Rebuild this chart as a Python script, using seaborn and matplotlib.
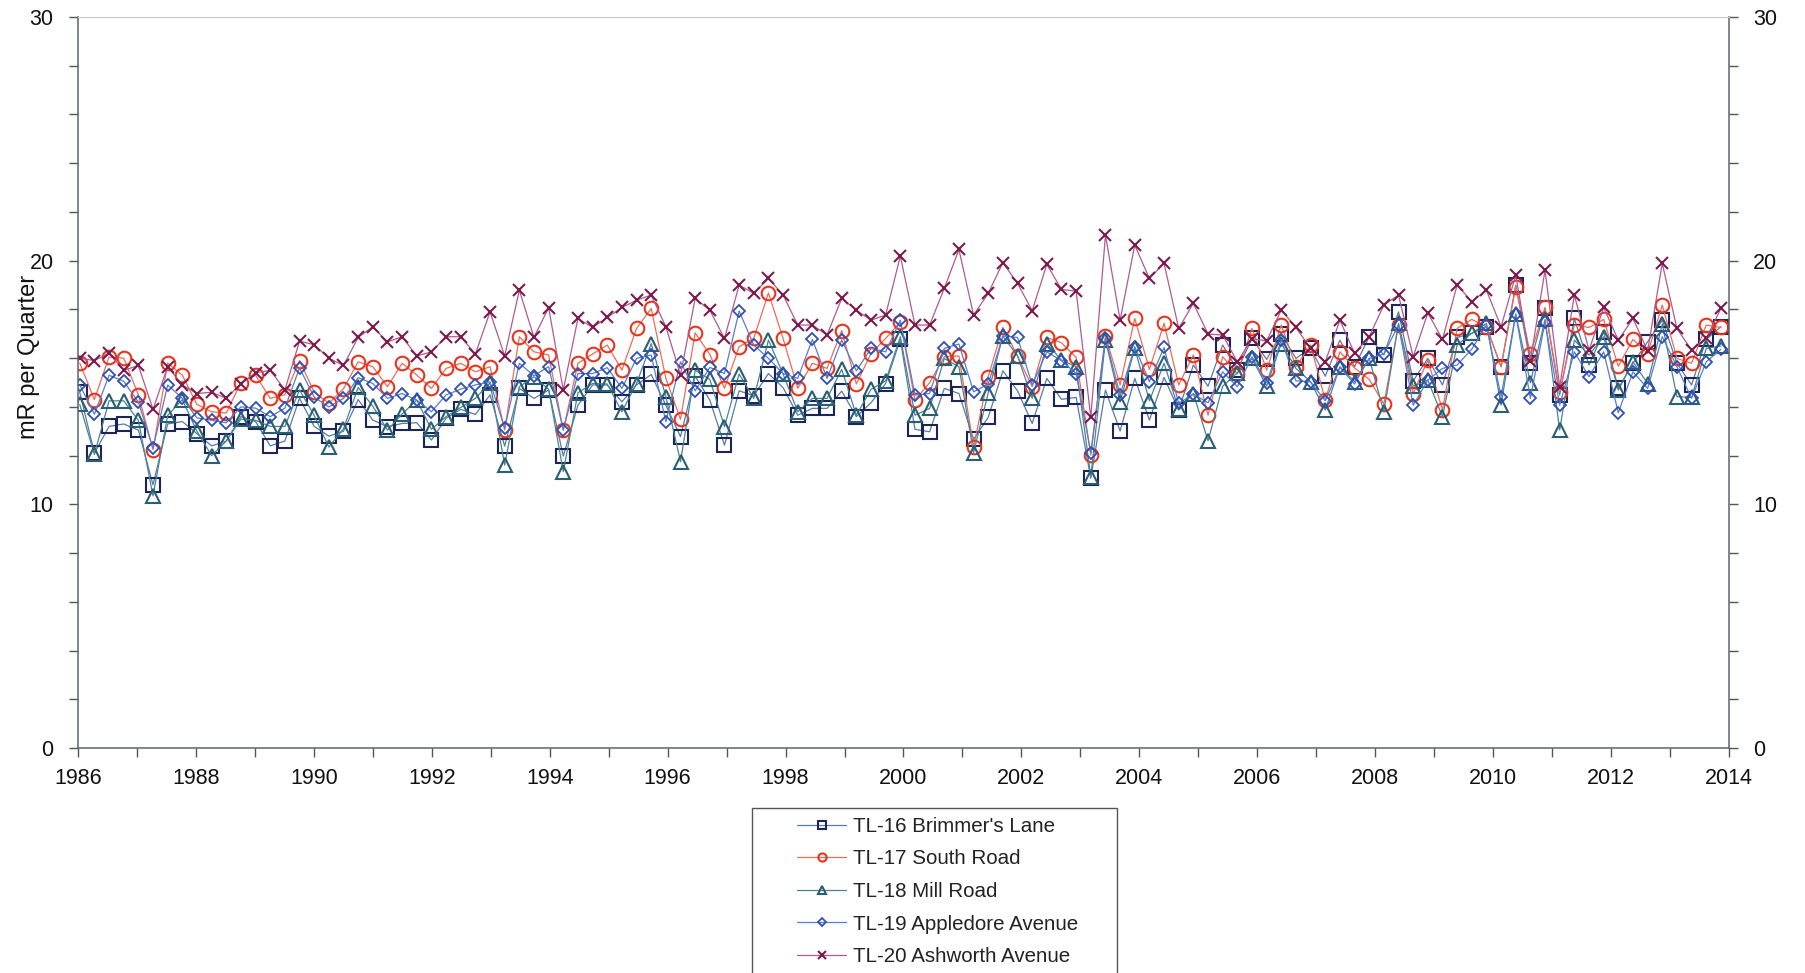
import numpy as np
import pandas as pd
import matplotlib
matplotlib.use("Agg")
import matplotlib.pyplot as plt
from matplotlib.ticker import MultipleLocator
from matplotlib.patches import Rectangle
from matplotlib import font_manager
import seaborn as sns

# ---------------- data (quarterly, 1986 Q1 .. 2014 Q1) ----------------
n_quarters = 113
quarters = 1986.03 + np.arange(n_quarters) * 0.2485

tl16_brimmers = [
    14.6, 12.1, 13.2, 13.3, 13.05, 10.8, 13.3, 13.4, 12.9, 12.4,
    12.6, 13.6, 13.4, 12.4, 12.6, 14.35, 13.2, 12.8, 13.0, 14.3,
    13.46, 13.19, 13.32, 13.35, 12.64, 13.53, 13.9, 13.69, 14.49, 12.39,
    14.76, 14.35, 14.69, 11.98, 14.07, 14.9, 14.9, 14.21, 14.9, 15.33,
    14.07, 12.78, 15.26, 14.28, 12.43, 14.66, 14.46, 15.37, 14.79, 13.66,
    13.94, 13.94, 14.65, 13.6, 14.17, 14.96, 16.77, 13.08, 12.98, 14.76,
    14.55, 12.67, 13.57, 15.48, 14.66, 13.32, 15.17, 14.31, 14.39, 11.07,
    14.69, 13.01, 15.17, 13.46, 15.21, 13.87, 15.72, 14.85, 16.54, 15.51,
    16.81, 15.95, 16.99, 15.99, 16.4, 15.26, 16.74, 15.65, 16.88, 16.13,
    17.9, 15.07, 15.99, 14.9, 16.85, 17.02, 17.29, 15.65, 19.0, 15.81,
    18.04, 14.49, 17.63, 15.72, 17.08, 14.76, 15.79, 16.67, 17.56, 15.79,
    14.9, 16.77, 17.29,
]
tl17_south = [
    15.8, 14.3, 16.05, 16.0, 14.5, 12.25, 15.8, 15.3, 14.1, 13.8,
    13.75, 15.0, 15.3, 14.35, 14.5, 15.9, 14.6, 14.15, 14.75, 15.85,
    15.65, 14.83, 15.79, 15.31, 14.76, 15.58, 15.79, 15.44, 15.65, 13.05,
    16.88, 16.26, 16.13, 13.05, 15.79, 16.17, 16.54, 15.51, 17.22, 18.04,
    15.17, 13.49, 17.04, 16.15, 14.76, 16.47, 16.81, 18.68, 16.81, 14.76,
    15.79, 15.58, 17.13, 14.94, 16.19, 16.81, 17.49, 14.28, 14.99, 16.06,
    16.09, 12.36, 15.24, 17.26, 16.09, 14.83, 16.85, 16.63, 16.03, 12.02,
    16.91, 14.9, 17.63, 15.54, 17.43, 14.9, 16.13, 13.66, 16.06, 15.35,
    17.22, 15.51, 17.36, 15.65, 16.54, 14.28, 16.26, 15.6, 15.13, 14.12,
    17.36, 14.55, 15.92, 13.87, 17.22, 17.59, 17.29, 15.65, 18.93, 16.17,
    18.08, 14.62, 17.36, 17.26, 17.59, 15.67, 16.77, 16.19, 18.18, 15.99,
    15.79, 17.36, 17.26,
]
tl18_mill = [
    14.1, 12.05, 14.25, 14.25, 13.45, 10.35, 13.65, 14.3, 13.0, 12.0,
    12.6, 13.5, 13.45, 13.2, 13.2, 14.7, 13.65, 12.35, 13.1, 14.8,
    14.03, 13.05, 13.71, 14.28, 13.08, 13.6, 13.98, 14.35, 14.99, 11.61,
    14.83, 15.24, 14.72, 11.34, 14.58, 14.96, 14.94, 13.8, 14.96, 16.6,
    14.42, 11.75, 15.51, 15.13, 13.19, 15.35, 14.35, 16.74, 15.35, 13.8,
    14.35, 14.35, 15.54, 13.66, 14.72, 15.07, 16.88, 13.66, 13.94, 15.99,
    15.65, 12.12, 14.58, 16.91, 16.09, 14.35, 16.6, 15.92, 15.65, 11.13,
    16.74, 14.21, 16.4, 14.25, 15.79, 13.9, 14.55, 12.61, 14.85, 15.4,
    15.99, 14.85, 16.6, 15.58, 15.03, 13.87, 15.65, 15.03, 15.99, 13.8,
    17.43, 14.85, 15.1, 13.6, 16.54, 17.02, 17.43, 14.07, 17.81, 14.99,
    17.59, 13.05, 16.74, 16.13, 16.88, 14.69, 15.85, 14.96, 17.4, 14.42,
    14.39, 16.4, 16.5,
]
tl19_appledore = [
    14.9, 13.7, 15.3, 15.05, 14.2, 12.3, 14.9, 14.35, 13.55, 13.45,
    13.35, 14.0, 13.95, 13.6, 13.95, 15.6, 14.4, 14.0, 14.35, 15.2,
    14.96, 14.35, 14.55, 14.28, 13.8, 14.49, 14.73, 14.9, 15.03, 13.12,
    15.79, 15.28, 15.65, 13.05, 15.37, 15.37, 15.61, 14.76, 15.99, 16.13,
    13.39, 15.85, 14.66, 15.62, 15.37, 17.93, 16.54, 15.99, 15.37, 15.17,
    16.77, 15.17, 16.74, 15.48, 16.4, 16.26, 17.56, 14.49, 14.55, 16.4,
    16.58, 14.62, 14.94, 16.91, 16.85, 14.9, 16.26, 15.89, 15.37, 12.12,
    16.81, 14.49, 16.47, 15.03, 16.44, 14.14, 14.53, 14.17, 15.44, 14.83,
    16.06, 14.99, 16.74, 15.07, 15.03, 14.25, 15.62, 14.94, 15.99, 16.17,
    17.36, 14.07, 15.1, 15.58, 15.72, 16.37, 17.36, 14.42, 17.8, 14.35,
    17.49, 14.07, 16.26, 15.24, 16.26, 13.76, 15.44, 14.76, 16.88, 15.65,
    14.35, 15.85, 16.36,
]
tl20_ashworth = [
    16.0, 15.9, 16.2, 15.5, 15.7, 13.9, 15.65, 14.9, 14.55, 14.6,
    14.35, 14.95, 15.4, 15.5, 14.7, 16.7, 16.55, 16.0, 15.7, 16.85,
    17.29, 16.67, 16.88, 16.09, 16.26, 16.88, 16.88, 16.17, 17.9, 16.09,
    18.79, 16.85, 18.07, 14.69, 17.63, 17.26, 17.67, 18.08, 18.38, 18.59,
    17.29, 15.31, 18.45, 17.97, 16.81, 19.0, 18.66, 19.27, 18.59, 17.36,
    17.36, 16.95, 18.45, 17.97, 17.56, 17.77, 20.19, 17.36, 17.36, 18.86,
    20.46, 17.77, 18.66, 19.92, 19.07, 17.95, 19.85, 18.82, 18.75, 13.57,
    21.05, 17.56, 20.64, 19.27, 19.89, 17.22, 18.25, 16.99, 16.95, 15.85,
    16.8, 16.71, 17.97, 17.26, 16.4, 15.85, 17.56, 16.2, 16.88, 18.18,
    18.59, 16.06, 17.86, 16.77, 19.0, 18.32, 18.79, 17.29, 19.41, 15.9,
    19.61, 14.83, 18.59, 16.33, 18.08, 16.74, 17.63, 16.3, 19.89, 17.22,
    16.33, 16.81, 18.04,
]

series_names = ["TL-16 Brimmer's Lane", "TL-17 South Road", "TL-18 Mill Road",
                "TL-19 Appledore Avenue", "TL-20 Ashworth Avenue"]
series_values = [tl16_brimmers, tl17_south, tl18_mill, tl19_appledore, tl20_ashworth]

x_tick_labels = list(range(1986, 2015, 2))
y_tick_labels = [0, 10, 20, 30]

# ---------------- styling ----------------
line_colors = ["#5a78a8", "#f06a5a", "#4a8494", "#5a7ccc", "#b05a90"]
marker_colors = ["#1b2656", "#e8341c", "#2a5e72", "#2f4fb4", "#7a1c4c"]
markers = ["s", "o", "^", "D", "x"]
marker_sizes = [10.0, 9.8, 10.2, 6.3, 9.2]
marker_edge = [1.5, 1.5, 1.5, 1.3, 1.5]

sns.set_style("ticks")
plt.rcParams["font.family"] = ["Liberation Sans", "DejaVu Sans"]

installed = {f.name for f in font_manager.fontManager.ttflist}
if "Liberation Sans Narrow" in installed:
    ylabel_family, ylabel_size = ["Liberation Sans Narrow", "DejaVu Sans"], 19
else:
    ylabel_family, ylabel_size = ["Liberation Sans", "DejaVu Sans"], 17

fig = plt.figure(figsize=(18.05, 9.73), dpi=100)
ax = fig.add_axes([0.0432, 0.2312, 0.9147, 0.7513])

rows = []
for name, vals in zip(series_names, series_values):
    rows.append(pd.DataFrame({"year": quarters, "value": vals, "site": name}))
df = pd.concat(rows, ignore_index=True)

for name, lc, mc, m, ms, mew in zip(series_names, line_colors, marker_colors, markers,
                                    marker_sizes, marker_edge):
    sub = df[df["site"] == name]
    sns.lineplot(data=sub, x="year", y="value", ax=ax, color=lc, linewidth=0.9,
                 marker=m, markersize=ms, markerfacecolor="none",
                 markeredgecolor=mc, markeredgewidth=mew, label=name,
                 estimator=None, sort=False)

ax.set_xlim(1986, 2014)
ax.set_ylim(0, 30)
ax.set_xticks(x_tick_labels)
ax.set_xticklabels([str(v) for v in x_tick_labels])
ax.set_yticks(y_tick_labels)
ax.set_yticklabels([str(v) for v in y_tick_labels])
ax.xaxis.set_minor_locator(MultipleLocator(1))
ax.yaxis.set_minor_locator(MultipleLocator(2))
ax.tick_params(axis="both", which="both", direction="out", length=6.5,
               width=1.0, color="#555555", labelsize=15.5, labelcolor="#111111")
ax.tick_params(axis="y", which="both", right=True, labelright=True, pad=11)
ax.tick_params(axis="x", which="both", pad=8)
ax.set_xlabel("")
ax.set_ylabel("mR per Quarter", fontsize=ylabel_size, family=ylabel_family,
              color="#111111")
ax.yaxis.set_label_coords(-0.023, 0.535)

for side in ["left", "bottom", "right"]:
    ax.spines[side].set_visible(True)
    ax.spines[side].set_color("#5a6470")
    ax.spines[side].set_linewidth(1.1)
ax.spines["top"].set_visible(True)
ax.spines["top"].set_color("#c8c8c8")
ax.spines["top"].set_linewidth(0.8)
ax.grid(False)

handles, labels = ax.get_legend_handles_labels()
if ax.get_legend() is not None:
    ax.get_legend().remove()
leg = fig.legend(handles, labels, loc="upper left", bbox_to_anchor=(0.4416, 0.1605),
                 frameon=False, fontsize=14.8, handlelength=2.4, handletextpad=0.3,
                 labelspacing=0.66, borderpad=0, borderaxespad=0, markerscale=0.6)
for t in leg.get_texts():
    t.set_color("#222222")
fig.patches.append(Rectangle((0.4166, -0.01), 0.2022, 0.1796, transform=fig.transFigure,
                             fill=False, edgecolor="#555555", linewidth=1.0))

fig.savefig("out.png", dpi=100)
